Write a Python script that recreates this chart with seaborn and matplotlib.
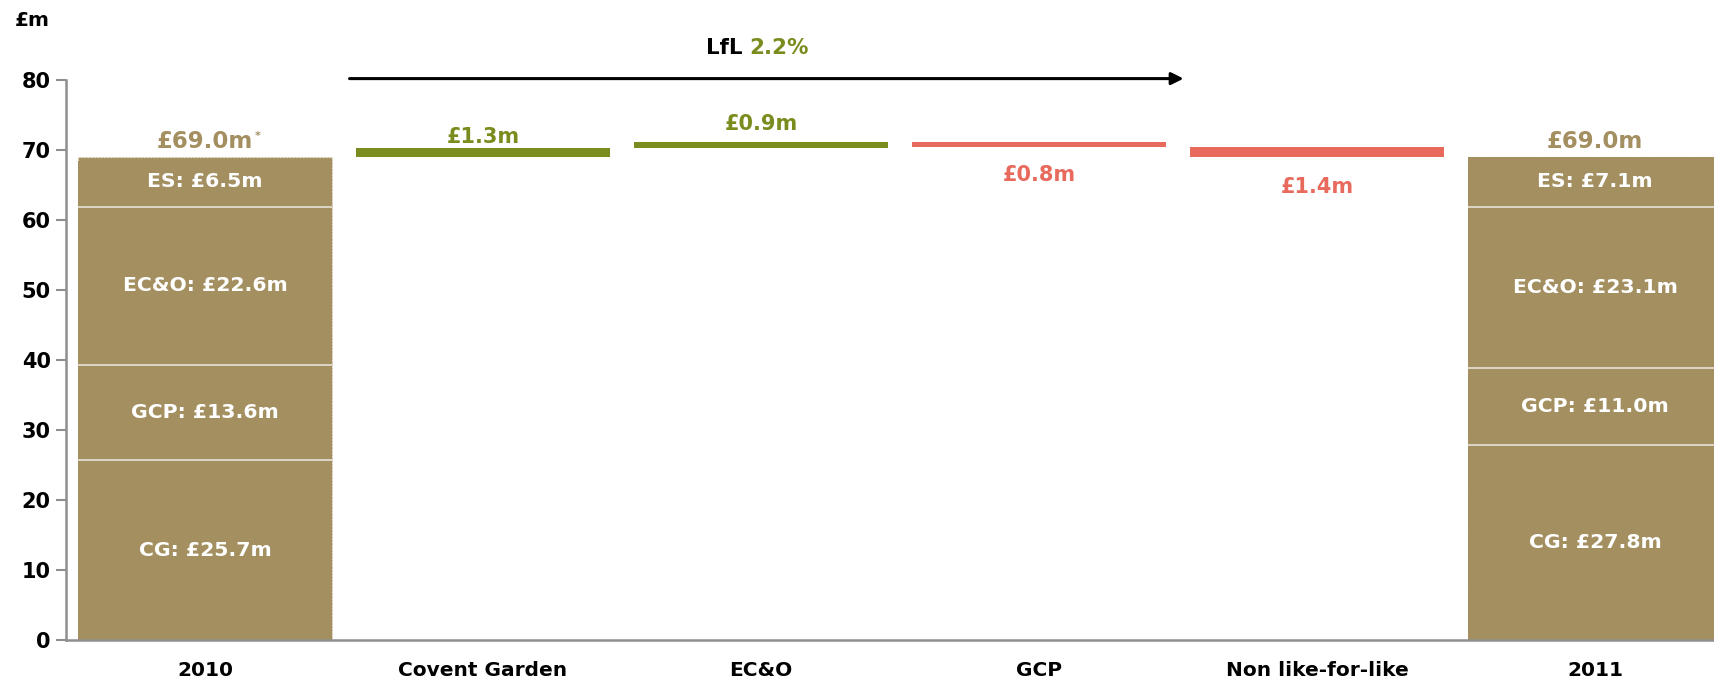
import matplotlib
matplotlib.use("Agg")
import matplotlib.pyplot as plt
import seaborn as sns
import pandas as pd

# ---- data -------------------------------------------------------------
categories = ["2010", "Covent Garden", "EC&O", "GCP", "Non like-for-like", "2011"]
segment_names = ["CG", "GCP", "EC&O", "ES"]
segments_2010 = [25.7, 13.6, 22.6, 6.5]
segments_2011 = [27.8, 11.0, 23.1, 7.1]
total_2010 = 69.0
total_2011 = 69.0
movement_categories = ["Covent Garden", "EC&O", "GCP", "Non like-for-like"]
movements = [1.3, 0.9, -0.8, -1.4]
lfl_growth = 2.2
yticks = [0, 10, 20, 30, 40, 50, 60, 70, 80]

# ---- style ------------------------------------------------------------
TAN = "#A38F60"
GREEN = "#7A8C1E"
RED = "#E86A5D"
AXIS_GREY = "#8F8F8F"
BAR_W = 0.914

sns.set_style("white")
plt.rcParams["font.family"] = ["DejaVu Sans"]
plt.rcParams["font.weight"] = "bold"
plt.rcParams["text.color"] = "black"

fig = plt.figure(figsize=(17.14, 6.8), dpi=100)
ax = fig.add_axes([66 / 1714, 40 / 680, 1668 / 1714, 560 / 680])

# ---- stacked totals (2010 / 2011) -------------------------------------
ends = {"2010": (segments_2010, total_2010), "2011": (segments_2011, total_2011)}

total_df = pd.DataFrame({"category": list(ends), "value": [v[1] for v in ends.values()]})
sns.barplot(data=total_df, x="category", y="value", order=categories, color=TAN,
            saturation=1, width=BAR_W, edgecolor="#EDE8DC", linewidth=0.9,
            linestyle=":", ax=ax)

rows = []
for cat, (segs, _) in ends.items():
    cum = 0.0
    for name, v in zip(segment_names, segs):
        cum += v
        rows.append({"category": cat, "segment": name, "value": v, "top": cum})
seg_df = pd.DataFrame(rows)

# cumulative layers, tallest first so each lower segment sits in front
for name in reversed(segment_names):
    layer = seg_df[seg_df["segment"] == name]
    sns.barplot(data=layer, x="category", y="top", order=categories, color=TAN,
                saturation=1, width=BAR_W, linewidth=0, ax=ax)

# segment separators and labels
for cat, (segs, total) in ends.items():
    xi = categories.index(cat)
    sub = seg_df[seg_df["category"] == cat]
    tops = sub["top"].tolist()
    bottoms = [0.0] + tops[:-1]
    for i, (name, v, b, t) in enumerate(zip(sub["segment"], sub["value"], bottoms, tops)):
        upper = total if i == len(tops) - 1 else t
        if i < len(tops) - 1:
            ax.hlines(t, xi - BAR_W / 2, xi + BAR_W / 2, color="#EEEAE0", lw=1.1)
        ax.text(xi, (b + upper) / 2, f"{name}: £{v:.1f}m", ha="center", va="center",
                color="white", fontsize=14.7, fontweight="bold")
    t = ax.annotate(f"£{total:.1f}m", xy=(xi, total), xytext=(0, 11.5),
                    textcoords="offset points", ha="center", va="center",
                    color=TAN, fontsize=16.5, fontweight="bold", annotation_clip=False)
    if cat == "2010":
        ax.annotate("*", xy=(1, 1), xycoords=t, xytext=(1, -1), textcoords="offset points",
                    ha="left", va="top", color=TAN, fontsize=8, fontweight="bold")

# ---- floating movement bars -------------------------------------------
label_offsets_pt = [8, 13, -24, -29]
level = total_2010
for cat, mv, off in zip(movement_categories, movements, label_offsets_pt):
    xi = categories.index(cat)
    col = GREEN if mv > 0 else RED
    ax.bar(xi, mv, bottom=level, width=BAR_W, color=col, linewidth=0)
    anchor = level + mv if mv > 0 else level
    ax.annotate(f"£{abs(mv):.1f}m", xy=(xi, anchor), xytext=(0, off),
                textcoords="offset points", ha="center", va="center",
                color=col, fontsize=15, fontweight="bold")
    level += mv

# like-for-like arrow across the LfL categories
ax.annotate("", xy=(3.52, 80.2), xytext=(0.52, 80.2),
            arrowprops=dict(arrowstyle="-|>", color="black", lw=2.2, mutation_scale=18,
                            shrinkA=0, shrinkB=0),
            annotation_clip=False)
lfl = fig.text(742 / 1714, 1 - 48 / 680, "LfL", ha="right", va="center",
               fontsize=15.4, fontweight="bold", color="black")
ax.annotate(f"{lfl_growth:.1f}%", xy=(1, 0), xycoords=lfl, xytext=(5, 0),
            textcoords="offset points", ha="left", va="bottom",
            fontsize=15.4, fontweight="bold", color=GREEN)

# ---- axes -------------------------------------------------------------
ax.set_xlim(-0.5, len(categories) - 0.5)
ax.set_ylim(0, 80)
ax.set_yticks(yticks)
ax.set_yticklabels([str(v) for v in yticks], fontsize=15, fontweight="bold", color="black")
ax.set_xticks(range(len(categories)))
ax.set_xticklabels(categories, fontsize=14.5, fontweight="bold", color="black")
ax.set_xticks([i - 0.5 for i in range(len(categories) + 1)], minor=True)
ax.tick_params(axis="x", which="major", length=0, pad=15)
ax.tick_params(axis="x", which="minor", length=7, width=1.5, color=AXIS_GREY, direction="out")
ax.tick_params(axis="y", length=7, width=1.5, color=AXIS_GREY, direction="out", pad=4, left=True)
ax.set_xlabel("")
ax.set_ylabel("")
for side in ("top", "right"):
    ax.spines[side].set_visible(False)
for side in ("left", "bottom"):
    ax.spines[side].set_color(AXIS_GREY)
    ax.spines[side].set_linewidth(1.8)

fig.text(15 / 1714, 1 - 21 / 680, "£m", ha="left", va="center",
         fontsize=14.5, fontweight="bold", color="black")

fig.savefig("out.png", dpi=100)
